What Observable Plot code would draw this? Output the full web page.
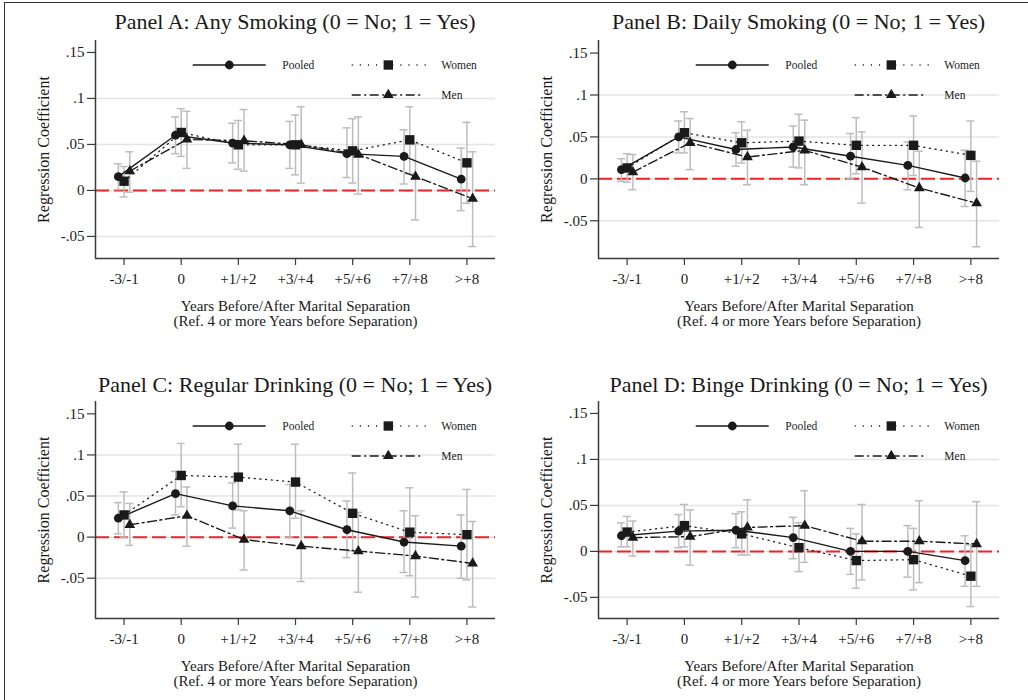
<!DOCTYPE html>
<html><head><meta charset="utf-8">
<script src="https://cdn.jsdelivr.net/npm/d3@7"></script>
<script src="https://cdn.jsdelivr.net/npm/@observablehq/plot@0.6"></script>
<style>
body{margin:0;background:#fff;}
#fig{position:relative;width:1028px;height:700px;overflow:hidden;font-family:"Liberation Serif","Times New Roman",serif;color:#1a1a1a;background:#fff;}
#fig svg, #fig svg text{font-family:"Liberation Serif","Times New Roman",serif !important;}
#border{position:absolute;left:4px;top:2px;width:1100px;height:800px;border-left:1.5px solid #333;border-top:1.5px solid #333;}
.panel{position:absolute;}
.title{position:absolute;text-align:center;font-size:22px;white-space:nowrap;line-height:1;}
</style></head><body><div id="fig"><div id="border"></div></div>
<script>
// ---------- data ----------
const periods = ["-3/-1", "0", "+1/+2", "+3/+4", "+5/+6", "+7/+8", ">+8"];
const yTicks = [-0.05, 0, 0.05, 0.1, 0.15];
const yTickLabels = ["-.05", "0", ".05", ".1", ".15"];
const gridValues = [-0.05, 0, 0.05, 0.1];
const seriesNames = ["Pooled", "Women", "Men"];
const panelTitles = [
  "Panel A: Any Smoking (0 = No; 1 = Yes)",
  "Panel B: Daily Smoking (0 = No; 1 = Yes)",
  "Panel C: Regular Drinking (0 = No; 1 = Yes)",
  "Panel D: Binge Drinking (0 = No; 1 = Yes)"
];
const yLabel = "Regression Coefficient";
const xLabel = "Years Before/After Marital Separation\n(Ref. 4 or more Years before Separation)";

// Panel A: Any smoking
const aPooled    = [0.015, 0.060, 0.0515, 0.0496, 0.040, 0.037, 0.0123];
const aPooledLo  = [0.001, 0.040, 0.030, 0.024, 0.014, 0.007, -0.022];
const aPooledHi  = [0.029, 0.080, 0.073, 0.075, 0.068, 0.066, 0.046];
const aWomen     = [0.010, 0.063, 0.0496, 0.0496, 0.043, 0.055, 0.030];
const aWomenLo   = [-0.007, 0.037, 0.023, 0.017, 0.008, 0.018, -0.014];
const aWomenHi   = [0.026, 0.089, 0.076, 0.082, 0.078, 0.091, 0.074];
const aMen       = [0.021, 0.0554, 0.054, 0.0496, 0.039, 0.015, -0.009];
const aMenLo     = [-0.002, 0.024, 0.021, 0.008, -0.004, -0.032, -0.061];
const aMenHi     = [0.042, 0.086, 0.088, 0.091, 0.080, 0.051, 0.042];

// Panel B: Daily smoking
const bPooled    = [0.011, 0.050, 0.035, 0.038, 0.027, 0.016, 0.001];
const bPooledLo  = [-0.003, 0.031, 0.015, 0.014, 0.000, -0.013, -0.033];
const bPooledHi  = [0.024, 0.069, 0.055, 0.063, 0.054, 0.044, 0.034];
const bWomen     = [0.013, 0.055, 0.043, 0.045, 0.040, 0.040, 0.028];
const bWomenLo   = [-0.004, 0.031, 0.019, 0.013, 0.006, 0.004, -0.015];
const bWomenHi   = [0.030, 0.080, 0.068, 0.077, 0.073, 0.075, 0.069];
const bMen       = [0.008, 0.043, 0.026, 0.034, 0.014, -0.011, -0.029];
const bMenLo     = [-0.013, 0.011, -0.007, -0.007, -0.029, -0.058, -0.081];
const bMenHi     = [0.029, 0.072, 0.058, 0.070, 0.056, 0.033, 0.021];

// Panel C: Regular drinking
const cPooled    = [0.023, 0.053, 0.038, 0.032, 0.009, -0.006, -0.011];
const cPooledLo  = [0.004, 0.027, 0.011, 0.000, -0.025, -0.043, -0.050];
const cPooledHi  = [0.042, 0.080, 0.066, 0.064, 0.044, 0.032, 0.027];
const cWomen     = [0.027, 0.075, 0.073, 0.067, 0.029, 0.006, 0.003];
const cWomenLo   = [0.000, 0.037, 0.033, 0.023, -0.017, -0.047, -0.052];
const cWomenHi   = [0.055, 0.114, 0.113, 0.113, 0.078, 0.060, 0.058];
const cMen       = [0.015, 0.026, -0.003, -0.011, -0.017, -0.023, -0.032];
const cMenLo     = [-0.010, -0.011, -0.040, -0.054, -0.067, -0.073, -0.085];
const cMenHi     = [0.041, 0.061, 0.032, 0.032, 0.030, 0.026, 0.019];

// Panel D: Binge drinking
const dPooled    = [0.017, 0.022, 0.023, 0.015, 0.000, 0.000, -0.010];
const dPooledLo  = [0.005, 0.004, 0.004, -0.008, -0.025, -0.028, -0.038];
const dPooledHi  = [0.031, 0.040, 0.041, 0.037, 0.025, 0.028, 0.017];
const dWomen     = [0.021, 0.028, 0.019, 0.004, -0.010, -0.009, -0.027];
const dWomenLo   = [0.005, 0.005, -0.004, -0.022, -0.040, -0.042, -0.060];
const dWomenHi   = [0.038, 0.051, 0.043, 0.031, 0.019, 0.025, 0.007];
const dMen       = [0.015, 0.016, 0.026, 0.028, 0.011, 0.011, 0.008];
const dMenLo     = [-0.005, -0.015, -0.004, -0.012, -0.031, -0.034, -0.038];
const dMenHi     = [0.033, 0.045, 0.056, 0.066, 0.051, 0.055, 0.054];

// ---------- styles / layout ----------
const ink = "#1a1a1a";
const ciColor = "#bdbdbd";
const seriesStyle = {
  Pooled: {offset: -0.1, symbol: "circle", r: 4.4, dash: null, width: 1.4},
  Women:  {offset: 0,    symbol: "square", r: 5.3, dash: "1.1,4.6", width: 1.3},
  Men:    {offset: 0.1,  symbol: "triangle", r: 4.0, dash: "9,3.5,2,3.5", width: 1.4}
};
const panels = [
  {title: panelTitles[0], est: [aPooled, aWomen, aMen], lo: [aPooledLo, aWomenLo, aMenLo], hi: [aPooledHi, aWomenHi, aMenHi],
   yDomain: [-0.074, 0.163], left: 0, top: 0, ml: 95, mr: 15, mt: 40, mb: 82, titleY: 11},
  {title: panelTitles[1], est: [bPooled, bWomen, bMen], lo: [bPooledLo, bWomenLo, bMenLo], hi: [bPooledHi, bWomenHi, bMenHi],
   yDomain: [-0.095, 0.165], left: 503, top: 0, ml: 95, mr: 14, mt: 40, mb: 82, titleY: 11},
  {title: panelTitles[2], est: [cPooled, cWomen, cMen], lo: [cPooledLo, cWomenLo, cMenLo], hi: [cPooledHi, cWomenHi, cMenHi],
   yDomain: [-0.099, 0.165], left: 0, top: 360, ml: 95, mr: 15, mt: 41, mb: 82, titleY: 14},
  {title: panelTitles[3], est: [dPooled, dWomen, dMen], lo: [dPooledLo, dWomenLo, dMenLo], hi: [dPooledHi, dWomenHi, dMenHi],
   yDomain: [-0.073, 0.163], left: 503, top: 360, ml: 95, mr: 14, mt: 41, mb: 82, titleY: 14}
];
const W = 510, H = 340;
const serif = "'Liberation Serif', 'Times New Roman', serif";

const fig = document.getElementById("fig");

function makePanel(p) {
  const rows = [];
  seriesNames.forEach((s, k) => {
    p.est[k].forEach((v, i) => rows.push({series: s, x: i + seriesStyle[s].offset, est: v, lo: p.lo[k][i], hi: p.hi[k][i]}));
  });
  const capHalf = 0.07;
  const seriesMarks = [];
  seriesNames.forEach(s => {
    const sub = rows.filter(d => d.series === s);
    seriesMarks.push(Plot.line(sub, {x: "x", y: "est", stroke: ink, strokeWidth: seriesStyle[s].width, strokeDasharray: seriesStyle[s].dash}));
  });
  seriesNames.forEach(s => {
    const sub = rows.filter(d => d.series === s);
    seriesMarks.push(Plot.dot(sub, {x: "x", y: "est", symbol: seriesStyle[s].symbol, r: seriesStyle[s].r, fill: ink, stroke: "none"}));
  });
  const chart = Plot.plot({
    width: W, height: H,
    marginLeft: p.ml, marginRight: p.mr, marginTop: p.mt, marginBottom: p.mb,
    style: {fontFamily: serif, fontSize: "15px", color: ink, background: "transparent", overflow: "visible"},
    x: {domain: [-0.5, 6.5]},
    y: {domain: p.yDomain},
    marks: [
      Plot.ruleY(gridValues, {stroke: "#e4e4e4", strokeWidth: 1.5}),
      Plot.ruleY([0], {stroke: "#e8262b", strokeWidth: 2, strokeDasharray: "14,5"}),
      Plot.ruleX(rows, {x: "x", y1: "lo", y2: "hi", stroke: ciColor, strokeWidth: 1.5}),
      Plot.ruleY(rows, {y: "hi", x1: d => d.x - capHalf, x2: d => d.x + capHalf, stroke: ciColor, strokeWidth: 1.5}),
      Plot.ruleY(rows, {y: "lo", x1: d => d.x - capHalf, x2: d => d.x + capHalf, stroke: ciColor, strokeWidth: 1.5}),
      ...seriesMarks,
      Plot.ruleX([-0.5], {stroke: "#3a3a3a", strokeWidth: 1.5}),
      Plot.ruleY([p.yDomain[0]], {stroke: "#3a3a3a", strokeWidth: 1.5}),
      Plot.axisY({ticks: yTicks, tickFormat: d => yTickLabels[yTicks.indexOf(d)], tickSize: 8, tickPadding: 3, label: null, stroke: "#3a3a3a", strokeWidth: 1.2, fontFamily: serif, fontSize: 15}),
      Plot.axisX({ticks: d3.range(periods.length), tickFormat: i => periods[i], tickSize: 7, tickPadding: 8, label: null, stroke: "#3a3a3a", strokeWidth: 1.2, fontFamily: serif, fontSize: 15}),
      Plot.text([yLabel], {text: d => d, frameAnchor: "left", textAnchor: "middle", dx: -52, rotate: -90, fontSize: 16, fontFamily: serif}),
      Plot.text([xLabel], {text: d => d, frameAnchor: "bottom", textAnchor: "middle", dy: 55, lineAnchor: "middle", lineHeight: 1.05, fontSize: 15, fontFamily: serif})
    ]
  });

  // in-plot legend (Stata style, placed inside the plot region)
  const svg = d3.select(chart);
  const g = svg.append("g").attr("transform", `translate(${p.ml},${p.mt})`);
  const legendLayout = [
    {name: "Pooled", x0: 97.7, len: 73, y: 25},
    {name: "Women", x0: 256.7, len: 75, y: 25},
    {name: "Men", x0: 256.7, len: 70, y: 55}
  ];
  const symMap = {circle: d3.symbolCircle, square: d3.symbolSquare, triangle: d3.symbolTriangle};
  legendLayout.forEach(L => {
    const st = seriesStyle[L.name];
    g.append("line").attr("x1", L.x0).attr("x2", L.x0 + L.len).attr("y1", L.y).attr("y2", L.y)
      .attr("stroke", ink).attr("stroke-width", st.width).attr("stroke-dasharray", st.dash === "1.1,4.6" ? "1.1,7" : st.dash);
    g.append("path").attr("d", d3.symbol(symMap[st.symbol], Math.PI * st.r * st.r)())
      .attr("transform", `translate(${L.x0 + 36.6},${L.y})`).attr("fill", ink);
    g.append("text").attr("x", L.x0 + 89.6).attr("y", L.y).attr("dy", "0.35em")
      .attr("text-anchor", "start").attr("font-size", 11.5).attr("font-family", serif)
      .attr("fill", ink).text(L.name);
  });

  const wrap = document.createElement("div");
  wrap.className = "panel";
  wrap.style.left = p.left + "px";
  wrap.style.top = p.top + "px";
  const t = document.createElement("div");
  t.className = "title";
  t.textContent = p.title;
  t.style.left = p.ml + "px";
  t.style.width = (W - p.ml - p.mr) + "px";
  t.style.top = p.titleY + "px";
  wrap.appendChild(chart);
  wrap.appendChild(t);
  fig.appendChild(wrap);
}
panels.forEach(makePanel);
</script>
</body></html>
